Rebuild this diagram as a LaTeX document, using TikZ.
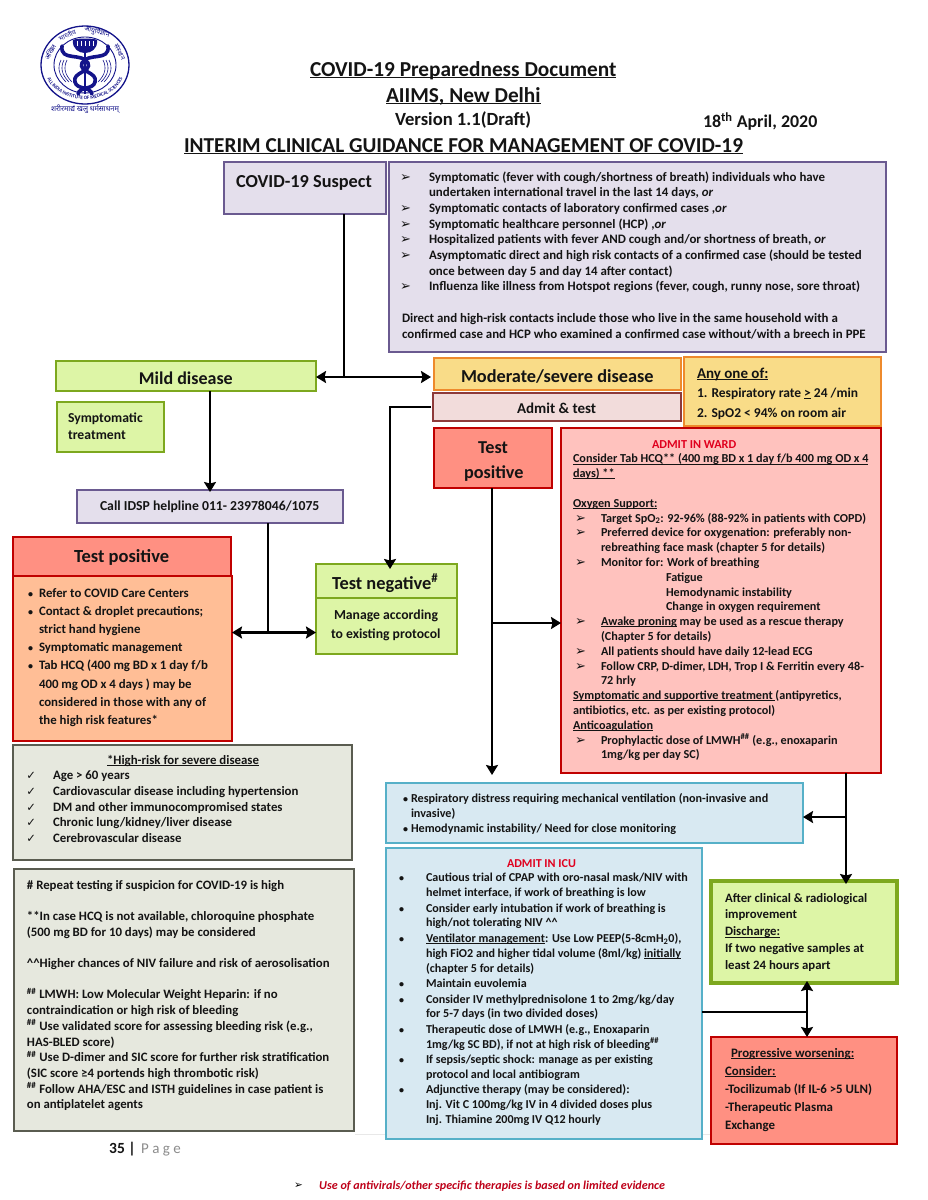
\documentclass[tikz,border=0pt]{standalone}
\usepackage{fontspec}
\usetikzlibrary{arrows.meta,decorations.text}
\setmainfont{Carlito}
\newfontfamily\symf{DejaVu Sans}
\newfontfamily\deva[Script=Devanagari]{Noto Sans}
\definecolor{ink}{HTML}{141414}
\definecolor{navy}{HTML}{14148A}
\definecolor{purpF}{HTML}{E4DFEC}\definecolor{purpD}{HTML}{6A5A90}
\definecolor{grnF}{HTML}{DDF5A6}\definecolor{grnD}{HTML}{7DA81E}
\definecolor{orF}{HTML}{F9DC88}\definecolor{orD}{HTML}{EE8A2C}
\definecolor{admF}{HTML}{F2DCDB}\definecolor{admD}{HTML}{8E3A3A}
\definecolor{redF}{HTML}{FF9082}\definecolor{redD}{HTML}{C00000}
\definecolor{wardF}{HTML}{FFC2BE}
\definecolor{peachF}{HTML}{FFBE96}
\definecolor{grayF}{HTML}{E6E8DE}\definecolor{grayD}{HTML}{5A5C50}
\definecolor{bluF}{HTML}{D8E9F2}\definecolor{bluD}{HTML}{56B0C8}
\definecolor{wrd}{HTML}{E0001E}
\newsavebox\ulbox
\newcommand\uline[1]{\sbox\ulbox{#1}\rlap{\usebox\ulbox}\rlap{\rule[-1.7pt]{\wd\ulbox}{.95pt}}\hspace{\wd\ulbox}}
% body text sizes
\newcommand\ftx[2]{\fontsize{#1}{#2}\selectfont\bfseries}
% markers hung to the left of the text edge
\newcommand\mkar[1]{\llap{{\symf\fontsize{13}{13}\selectfont ➢}\hspace{#1pt}}}
\newcommand\mkck[1]{\llap{{\symf\fontsize{11.5}{11.5}\selectfont ✓}\hspace{#1pt}}}
\newcommand\mkbu[1]{\llap{{\fontsize{10}{10}\selectfont •}\hspace{#1pt}}}
\newcommand\hsh{\textsuperscript{\#\#}}
% name, style, x0,y0,x1,y1, text-left offset, first-baseline offset, text
\newcommand\bx[9]{\node[#2,inner sep=0pt,outer sep=0pt,anchor=north west,
   minimum width=\dimexpr#5pt-#3pt\relax,minimum height=\dimexpr#6pt-#4pt\relax] (#1) at (#3,#4)
   {\begin{minipage}[c][\dimexpr#6pt-#4pt\relax][t]{\dimexpr#5pt-#3pt\relax}%
     \vspace*{\dimexpr#8pt-.7\baselineskip\relax}%
     \leftskip=#7pt\relax\rightskip=-300pt\relax\parindent=0pt\relax\strut #9\end{minipage}};}
\tikzset{
  x=1pt,y=-1pt,
  >={Stealth[length=10pt,width=12pt,inset=1.5pt]},
  conn/.style={draw=black,line width=2.9pt},
  tip/.style={conn,->},
  purp/.style={draw=purpD,fill=purpF,line width=2.3pt},
  grn/.style={draw=grnD,fill=grnF,line width=2.6pt},
  grnk/.style={draw=grnD,fill=grnF,line width=3.2pt},
  orng/.style={draw=orD,fill=orF,line width=1.8pt},
  adm/.style={draw=admD,fill=admF,line width=1.8pt},
  redh/.style={draw=redD,fill=redF,line width=2.8pt},
  ward/.style={draw=redD,fill=wardF,line width=2.3pt},
  peach/.style={draw=redD,fill=peachF,line width=2.2pt},
  gry/.style={draw=grayD,fill=grayF,line width=2.6pt},
  blu/.style={draw=bluD,fill=bluF,line width=2.3pt},
  plain/.style={text=ink},
}
\begin{document}
\begin{tikzpicture}
\useasboundingbox (0,0) rectangle (927,1200);
\fill[white] (0,0) rectangle (927,1200);
\draw[black!9,line width=.7pt] (355,1134) -- (712,1134);

% ---------- logo
\draw[navy,line width=1.3pt] (85,26) .. controls (109,26) and (129,43.5) .. (129,65) .. controls (129,86.5) and (109,104) .. (85,104) .. controls (61,104) and (41,86.5) .. (41,65) .. controls (41,43.5) and (61,26) .. (85,26) -- cycle;
\draw[navy,line width=.9pt] (85,37) .. controls (102,37) and (116,49.5) .. (116,65) .. controls (116,80.5) and (102,93) .. (85,93) .. controls (68,93) and (54,80.5) .. (54,65) .. controls (54,49.5) and (68,37) .. (85,37) -- cycle;
\node[navy,rotate=61,font=\deva\fontsize{6.6}{7}\selectfont] (lg1) at (50,52) {अखिल};
\node[navy,rotate=24,font=\deva\fontsize{6.6}{7}\selectfont] (lg2) at (67,35) {भारतीय};
\node[navy,rotate=-14,font=\deva\fontsize{6.6}{7}\selectfont] (lg3) at (97,32) {आयुर्विज्ञान};
\node[navy,rotate=-62,font=\deva\fontsize{6.6}{7}\selectfont] (lg4) at (120,52) {संस्थान};
\path[decorate,decoration={text along path,text color=navy,text align=center,
  text={|\fontsize{5}{5}\selectfont\bfseries|ALL INDIA INSTITUTE OF MEDICAL SCIENCES}}]
  (45,70) .. controls (50,109) and (120,109) .. (125,70);
\fill[navy] (73,40) .. controls (76,38) and (94,38) .. (97,40) .. controls (98,49) and (91,53) .. (85,53) .. controls (79,53) and (72,49) .. (73,40) -- cycle;
\foreach \tx in {77,81,85,89,93}{\draw[white,line width=.8pt] (\tx,41) -- (\tx,46);}
\draw[navy,line width=3.6pt,line cap=round] (62,46) .. controls (60,62) and (82,52) .. (88,63) .. controls (92,72) and (72,72) .. (75,82) .. controls (77,90) and (90,86) .. (92,94);
\draw[navy,line width=3.6pt,line cap=round] (108,46) .. controls (110,62) and (88,52) .. (82,63) .. controls (78,72) and (98,72) .. (95,82) .. controls (93,90) and (80,86) .. (78,94);
\draw[navy,line width=2pt] (85,50) -- (85,94);
\foreach \ta in {0,3,6}{
 \draw[navy,line width=.6pt] (61+\ta,60) .. controls (57+\ta,68) and (59+\ta,75) .. (66+\ta,82);
 \draw[navy,line width=.6pt] (109-\ta,60) .. controls (113-\ta,68) and (111-\ta,75) .. (104-\ta,82);}
\node[navy,font=\deva\fontsize{7.4}{8}\selectfont] (motto) at (85,109) {शरीरमाद्यं खलु धर्मसाधनम्};

% ---------- titles
\bx{tl1}{plain,font=\ftx{21.3}{22}}{300}{55}{640}{85}{10}{21}{\uline{COVID-19 Preparedness Document}}
\bx{tl2}{plain,font=\ftx{21.3}{22}}{300}{82}{640}{110}{86}{20}{\uline{AIIMS, New Delhi}}
\bx{tl3}{plain,font=\ftx{18.6}{19}}{360}{108}{600}{132}{35}{17}{Version 1.1(Draft)}
\bx{tl4}{plain,font=\ftx{17.9}{18}}{690}{106}{830}{132}{13}{19}{18\textsuperscript{th} April, 2020}
\bx{tl5}{plain,font=\ftx{21.25}{22}}{170}{132}{760}{160}{14}{20}{\uline{INTERIM CLINICAL GUIDANCE FOR MANAGEMENT OF COVID-19}}

% ---------- top boxes
\bx{suspect}{purp,text=ink,font=\ftx{18.3}{20}}{224}{162}{386}{214}{12}{25}{COVID-19 Suspect}
\bx{criteria}{purp,text=ink,font=\ftx{12.9}{15.7}}{389}{162}{886}{352}{40}{19}{%
\mkar{18}Symptomatic (fever with cough/shortness of breath) individuals who have\\
undertaken international travel in the last 14 days, \textit{or}\\
\mkar{18}Symptomatic contacts of laboratory confirmed cases ,\textit{or}\\
\mkar{18}Symptomatic healthcare personnel (HCP) ,\textit{or}\\
\mkar{18}Hospitalized patients with fever AND cough and/or shortness of breath, \textit{or}\\
\mkar{18}Asymptomatic direct and high risk contacts of a confirmed case (should be tested\\
once between day 5 and day 14 after contact)\\
\mkar{18}Influenza like illness from Hotspot regions (fever, cough, runny nose, sore throat)\\
~\\
\hspace*{-27pt}Direct and high-risk contacts include those who live in the same household with a\\
\hspace*{-27pt}confirmed case and HCP who examined a confirmed case without/with a breech in PPE}

\bx{mild}{grn,text=ink,font=\ftx{18}{20}}{56}{361}{316}{391}{83}{23}{Mild disease}
\bx{sympt}{grn,text=ink,font=\ftx{13.7}{15.7}}{57}{402}{164}{452}{11}{20}{Symptomatic\\[1.4pt]treatment}
\bx{idsp}{purp,text=ink,font=\ftx{13.7}{16}}{77}{490}{343}{523}{23}{20}{Call IDSP helpline 011- 23978046/1075}
\bx{moderate}{orng,text=ink,font=\ftx{18.3}{20}}{434}{358}{681}{390}{27}{24}{Moderate/severe disease}
\bx{admit}{adm,text=ink,font=\ftx{15}{16}}{433}{393}{681}{421}{84}{20}{Admit \& test}
\bx{anyone}{orng,text=ink,font=\ftx{13.5}{19.5}}{684}{357}{881}{426}{13}{21}{{\fontsize{15}{19.5}\selectfont\uline{Any one of:}}\\
1. Respiratory rate \uline{>} 24 /min\\
2. SpO2 < 94\% on room air}
\bx{testmid}{redh,text=ink,font=\ftx{18.2}{25}}{434}{428}{552}{488}{44}{25}{Test\\\hspace*{-14pt}positive}

% ---------- ward
\bx{wardb}{ward,text=ink,font=\ftx{12.2}{14.8}}{561}{428}{881}{773}{40}{20}{%
\hspace*{51pt}{\color{wrd}ADMIT IN WARD}\\
\hspace*{-28pt}\uline{Consider Tab HCQ** (400 mg BD x 1 day f/b 400 mg OD x 4}\\
\hspace*{-28pt}\uline{days) **}\\
~\\
\hspace*{-28pt}\uline{Oxygen Support:}\\
\mkar{15}Target SpO\textsubscript{2}: 92-96\% (88-92\% in patients with COPD)\\
\mkar{15}Preferred device for oxygenation: preferably non-\\
rebreathing face mask (chapter 5 for details)\\
\mkar{15}Monitor for: Work of breathing\\
\hspace*{65pt}Fatigue\\
\hspace*{65pt}Hemodynamic instability\\
\hspace*{65pt}Change in oxygen requirement\\
\mkar{15}\uline{Awake proning} may be used as a rescue therapy\\
(Chapter 5 for details)\\
\mkar{15}All patients should have daily 12-lead ECG\\
\mkar{15}Follow CRP, D-dimer, LDH, Trop I \& Ferritin every 48-\\
72 hrly\\
\hspace*{-28pt}\uline{Symptomatic and supportive treatment }(antipyretics,\\
\hspace*{-28pt}antibiotics, etc. as per existing protocol)\\
\hspace*{-28pt}\uline{Anticoagulation}\\
\mkar{15}Prophylactic dose of  LMWH\hsh{} (e.g., enoxaparin\\
1mg/kg per day SC)}

% ---------- left column
\bx{posh}{redh,text=ink,font=\ftx{18.5}{20}}{13}{537}{231}{576}{61}{25}{Test positive}
\bx{posb}{peach,text=ink,font=\ftx{12.85}{18.2}}{13}{576}{232}{741}{26}{21}{%
\mkbu{6}Refer to COVID Care Centers\\
\mkbu{6}Contact \& droplet precautions;\\
strict hand hygiene\\
\mkbu{6}Symptomatic management\\
\mkbu{6}Tab HCQ (400 mg BD x 1 day f/b\\
400 mg OD x 4 days ) may be\\
considered in those with  any of\\
the high risk features*}
\bx{negh}{grn,text=ink,font=\ftx{18.4}{20}}{316}{564}{457}{598}{16}{24}{Test negative\textsuperscript{\#}}
\bx{negb}{grn,text=ink,font=\ftx{13.7}{19}}{316}{598}{457}{654}{18}{21}{Manage according\\\hspace*{-3pt}to existing protocol}
\bx{hirisk}{gry,text=ink,font=\ftx{12.85}{15.7}}{13}{745}{352}{860}{40}{19}{%
\hspace*{54pt}\uline{*High-risk for severe disease}\\
\mkck{17}Age > 60 years\\
\mkck{17}Cardiovascular disease including hypertension\\
\mkck{17}DM and other immunocompromised states\\
\mkck{17}Chronic lung/kidney/liver disease\\
\mkck{17}Cerebrovascular disease}
\bx{notes}{gry,text=ink,font=\ftx{12.8}{15.7}}{14}{869}{354}{1131}{13}{20}{%
\# Repeat testing if suspicion for COVID-19 is high\\
~\\{}
**In case HCQ is not available, chloroquine phosphate\\
(500 mg BD for 10 days) may be considered\\
~\\
\textasciicircum\textasciicircum Higher chances of NIV failure and risk of aerosolisation\\
~\\
\hsh{} LMWH: Low Molecular Weight Heparin: if no\\
contraindication or high risk of bleeding\\
\hsh{} Use validated score for assessing bleeding risk (e.g.,\\
HAS-BLED score)\\
\hsh{} Use D-dimer and SIC score for further risk stratification\\
(SIC score ≥4 portends high thrombotic risk)\\
\hsh{} Follow AHA/ESC and ISTH guidelines in case patient is\\
on antiplatelet agents}

% ---------- blue boxes
\bx{resp}{blu,text=ink,font=\ftx{12.17}{15.2}}{386}{783}{803}{843}{25}{19}{%
\mkbu{3}Respiratory distress requiring mechanical ventilation (non-invasive and\\
invasive)\\
\mkbu{3}Hemodynamic instability/ Need for close monitoring}
\bx{icu}{blu,text=ink,font=\ftx{12.1}{14.8}}{386}{848}{702}{1139}{40}{19}{%
\hspace*{81pt}{\color{wrd}ADMIT IN ICU}\\
\mkbu{22}Cautious trial of CPAP with oro-nasal mask/NIV with\\
helmet interface, if work of breathing is low\\[.7pt]
\mkbu{22}Consider early intubation if work of breathing is\\
high/not tolerating NIV \textasciicircum\textasciicircum\\[.7pt]
\mkbu{22}\uline{Ventilator management}: Use Low PEEP(5-8cmH\textsubscript{2}0),\\
high FiO2 and higher tidal volume (8ml/kg) \uline{initially}\\
(chapter 5 for details)\\[.7pt]
\mkbu{22}Maintain euvolemia\\[.7pt]
\mkbu{22}Consider IV methylprednisolone 1 to 2mg/kg/day\\
for 5-7 days (in two divided doses)\\[.7pt]
\mkbu{22}Therapeutic dose of LMWH (e.g., Enoxaparin\\
1mg/kg SC BD), if not at high risk of bleeding\hsh\\[.7pt]
\mkbu{22}If sepsis/septic shock: manage as per existing\\
protocol and local antibiogram\\[.7pt]
\mkbu{22}Adjunctive therapy (may be considered):\\
Inj. Vit C 100mg/kg IV in 4 divided doses plus\\
Inj. Thiamine 200mg IV Q12 hourly}

% ---------- right column
\bx{disch}{grnk,text=ink,font=\ftx{12.8}{16.9}}{711}{881}{897}{983}{14}{21}{%
After clinical \& radiological\\improvement\\\uline{Discharge:}\\If two negative samples at\\least 24 hours apart}
\bx{prog}{redh,text=ink,font=\ftx{12.9}{18}}{711}{1037}{897}{1144}{14}{20}{%
\hspace*{6pt}\uline{Progressive worsening:}\\\uline{Consider:}\\-Tocilizumab (If IL-6 >5 ULN)\\-Therapeutic Plasma\\Exchange}

% ---------- footer
\node[anchor=base west,inner sep=0pt,text=ink,font=\ftx{15.5}{16}] (pgn) at (109,1153) {35 |};
\node[anchor=base west,inner sep=0pt,text=black!45,font=\fontsize{15}{16}\selectfont] (pgw) at (141,1153) {P a g e};
\node[anchor=base west,inner sep=0pt,font=\symf\fontsize{10.5}{11}\selectfont] (ftm) at (294,1188) {➢};
\node[anchor=base west,inner sep=0pt,text=wrd!85!black,font=\ftx{12.1}{14}\itshape] (ftt) at (319,1189) {Use of antivirals/other specific therapies is based on limited evidence};

% ---------- connectors
\coordinate (j0) at (210,440);
\coordinate (j1) at (344,377);
\coordinate (j2) at (268,632.5);
\coordinate (j3) at (492,623);
\coordinate (j4) at (846,817);
\coordinate (j5) at (807,1012);
\coordinate (a1) at (390,407);
\coordinate (j6) at (492,775);
\draw[conn] (suspect.south -| j1) -- (j1);
\draw[tip] (j1) -- (mild.east |- j1);
\draw[tip] (j1) -- ([xshift=-3pt]moderate.west |- j1);
\draw[tip] (mild.south -| j0) -- ([yshift=-2pt]idsp.north -| j0);
\draw[tip] ([xshift=-2pt]admit.west |- a1) -| ([yshift=-5pt]negh.north -| a1);
\draw[conn] (idsp.south -| j2) -- (j2);
\draw[tip] (j2) -- (posb.east |- j2);
\draw[tip] (j2) -- (negb.west |- j2);
\draw[conn] (testmid.south -| j3) -- (j3);
\draw[tip] (j3) -- (wardb.west |- j3);
\draw[tip] (j3) -- (j6);
\draw[tip] (wardb.south -| j4) -- ([yshift=-3pt]disch.north -| j4);
\draw[tip] (j4) -- (resp.east |- j4);
\draw[conn] (icu.east |- j5) -- (j5);
\draw[tip] (j5) -- ([yshift=2pt]disch.south -| j5);
\draw[tip] (j5) -- (prog.north -| j5);
\end{tikzpicture}
\end{document}
